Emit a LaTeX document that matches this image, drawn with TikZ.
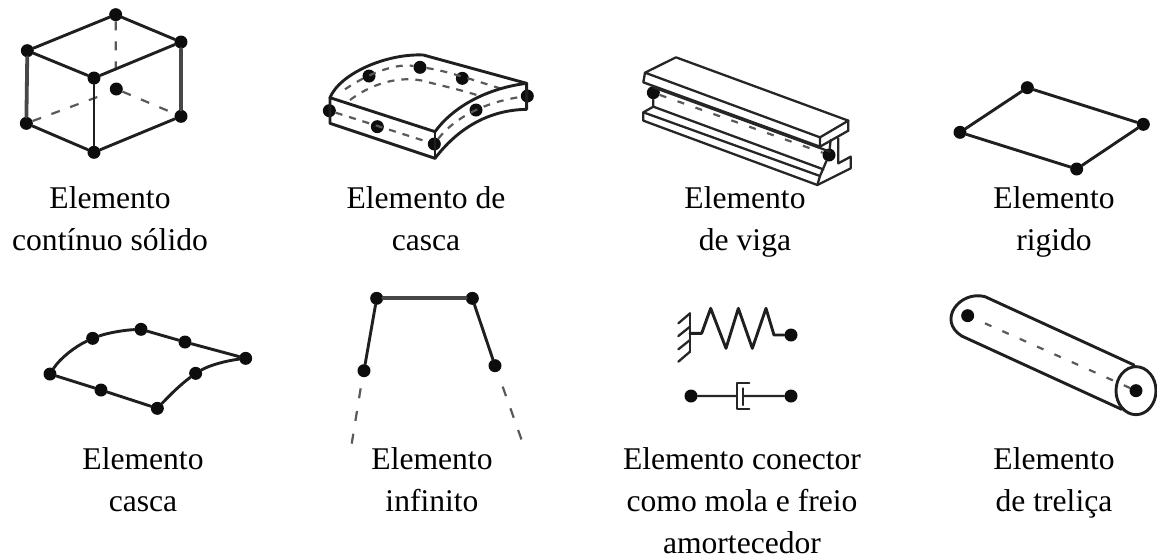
\documentclass[tikz,border=0pt]{standalone}
\usepackage{fontspec}
\setmainfont{Liberation Serif}
\begin{document}
\begin{tikzpicture}[x=1pt,y=-1pt,
  dotn/.style={circle,fill=black!95,inner sep=0pt,minimum size=13pt},
  edge/.style={draw=black!88,line width=2.9pt,line join=round,line cap=round},
  thick edge/.style={draw=black!72,line width=3.8pt,line cap=round},
  thin edge/.style={draw=black!85,line width=2.3pt,line join=round,line cap=round},
  dash edge/.style={draw=black!65,line width=2.2pt,dash pattern=on 9pt off 11pt},
  label/.style={anchor=base,inner sep=0pt,font=\fontsize{31.6}{36}\selectfont,text=black}]
\useasboundingbox (0,0) rectangle (1157,558);
% solid
\begin{scope}[shift={(0,0)},scale=1/3]
\node[dotn] (c1) at (347,44) {};
\node[dotn] (c2) at (82,152) {};
\node[dotn] (c3) at (543,126) {};
\node[dotn] (c4) at (282,234) {};
\node[dotn] (c5) at (79,370) {};
\node[dotn] (c6) at (543,349) {};
\node[dotn] (c7) at (282,457) {};
\node[dotn] (c8) at (349,267) {};
\draw[dash edge] (c1) -- (347,210);
\draw[dash edge] (c5) -- (300,288);
\draw[dash edge] (c8) -- (c6);
\draw[edge] (c1) -- (c2) -- (c4) -- (c3) -- (c1);
\draw[edge] (c5) -- (c7) -- (c6);
\draw[thick edge] (c2) -- (c5);
\draw[thick edge] (c3) -- (c6);
\draw[edge] (c4) -- (c7);
\end{scope}
% curved solid shell
\begin{scope}[shift={(300,50)},scale=1/3]
\coordinate (s1) at (90,143);
\coordinate (s2) at (370,15);
\coordinate (s3) at (680,100);
\coordinate (s4) at (405,245);
\coordinate (s5) at (90,220);
\coordinate (s6) at (405,325);
\coordinate (s7) at (680,178);
\node[dotn] (n1) at (88,182) {};
\node[dotn] (n2) at (232,230) {};
\node[dotn] (n3) at (403,282) {};
\node[dotn] (n4) at (528,180) {};
\node[dotn] (n5) at (682,138) {};
\node[dotn] (n6) at (207,78) {};
\node[dotn] (n7) at (360,52) {};
\node[dotn] (n8) at (487,85) {};
\draw[dash edge,dash pattern=on 7pt off 7pt] (135,118) .. controls (220,60) and (300,40) .. (n7) .. controls (430,60) and (520,90) .. (600,115);
\draw[dash edge,dash pattern=on 7pt off 7pt] (150,150) .. controls (230,90) and (320,75) .. (390,98) .. controls (440,110) and (500,125) .. (530,135);
\draw[dash edge,dash pattern=on 7pt off 7pt] (n1) -- (n3);
\draw[dash edge,dash pattern=on 7pt off 7pt] (n3) .. controls (450,220) and (530,160) .. (n5);
\draw[edge] (s1) .. controls (120,70) and (260,10) .. (s2) -- (s3) .. controls (560,115) and (460,170) .. (s4) -- cycle;
\draw[edge] (s1) -- (s5) -- (s6) .. controls (470,240) and (560,180) .. (s7) -- (s3);
\draw[edge] (s4) -- (s6);
\end{scope}
% beam
\begin{scope}[shift={(590,50)},scale=1/3]
\coordinate (b1) at (165,68);
\coordinate (b2) at (258,22);
\coordinate (b3) at (775,212);
\coordinate (b4) at (690,262);
\coordinate (b5) at (160,97);
\coordinate (b6) at (690,290);
\coordinate (b7) at (775,242);
\node[dotn] (bn1) at (190,128) {};
\node[dotn] (bn2) at (717,315) {};
\draw[dash edge,dash pattern=on 7pt off 12pt] (bn1) -- (bn2);
\draw[thin edge] (b1) -- (b2) -- (b3) -- (b4) -- cycle;
\draw[thin edge] (b1) -- (b5) -- (b6) -- (b4);
\draw[thin edge] (b3) -- (b7) -- (b6);
\draw[thin edge] (190,112) -- (720,305);
\draw[thin edge] (bn1) -- (190,170) -- (700,358);
\draw[thin edge] (190,170) -- (160,187) -- (160,212) -- (682,405) -- (782,355) -- (782,320) -- (745,340) -- (745,265);
\draw[thin edge] (160,187) -- (690,378) -- (682,405);
\draw[thin edge] (722,270) -- (bn2) -- (690,378);
\end{scope}
% rigid
\begin{scope}[shift={(930,70)},scale=1/3]
\node[dotn] (r1) at (292,53) {};
\node[dotn] (r2) at (640,163) {};
\node[dotn] (r3) at (440,297) {};
\node[dotn] (r4) at (90,187) {};
\draw[edge] (r1) -- (r2) -- (r3) -- (r4) -- (r1);
\end{scope}
% shell quad
\begin{scope}[shift={(30,310)},scale=1/3]
\node[dotn] (q1) at (60,192) {};
\node[dotn] (q2) at (188,85) {};
\node[dotn] (q3) at (333,58) {};
\node[dotn] (q4) at (465,96) {};
\node[dotn] (q5) at (647,145) {};
\node[dotn] (q6) at (497,190) {};
\node[dotn] (q7) at (382,295) {};
\node[dotn] (q8) at (213,240) {};
\draw[edge] (q1) .. controls (90,145) and (135,110) .. (q2) .. controls (235,68) and (285,60) .. (q3) -- (q4) -- (q5) .. controls (590,152) and (540,165) .. (q6) .. controls (450,225) and (420,255) .. (q7) -- (q8) -- (q1);
\end{scope}
% infinite
\begin{scope}[shift={(340,280)},scale=1/3]
\node[dotn] (i1) at (110,55) {};
\node[dotn] (i2) at (397,55) {};
\node[dotn] (i3) at (465,257) {};
\node[dotn] (i4) at (72,272) {};
\coordinate (i5) at (35,492);
\coordinate (i6) at (545,480);
\coordinate (i7) at (62,325);
\coordinate (i8) at (488,320);
\draw[edge] (i4) -- (i1);
\draw[thick edge] (i1) -- (i2);
\draw[edge] (i2) -- (i3);
\draw[dash edge,dash pattern=on 10pt off 13pt] (i7) -- (i5);
\draw[dash edge,dash pattern=on 10pt off 13pt] (i8) -- (i6);
\end{scope}
% spring and damper
\begin{scope}[shift={(640,310)},scale=1/3]
\coordinate (w1) at (150,10);
\coordinate (w2) at (150,125);
\node[dotn] (sp) at (453,75) {};
\node[dotn] (d1) at (153,258) {};
\node[dotn] (d2) at (453,258) {};
\coordinate (d3) at (290,258);
\coordinate (d4) at (310,258);
\draw[thin edge] (w1) -- (w2);
\draw[thin edge] (w1) -- (115,40) (150,50) -- (115,78) (150,90) -- (115,118) (w2) -- (115,155);
\draw[edge] (150,70) -- (185,70) -- (212,-5) -- (258,115) -- (295,-5) -- (337,115) -- (378,-5) -- (402,75) -- (sp);
\draw[thin edge] (d1) -- (d3) (d4) -- (d2);
\draw[thin edge] (328,218) -- (290,218) -- (290,298) -- (328,298);
\draw[thin edge] (310,235) -- (310,285);
\end{scope}
% truss
\begin{scope}[shift={(930,300)},scale=1/3]
\node[dotn] (t1) at (113,47) {};
\node[dotn] (t2) at (618,272) {};
\coordinate (t3) at (165,-10);
\coordinate (t4) at (612,195);
\coordinate (t5) at (95,108);
\coordinate (t6) at (575,328);
\draw[dash edge,dash pattern=on 7pt off 12pt] (165,70) -- (t2);
\draw[edge] (t4) -- (t3) .. controls (90,-30) and (20,60) .. (t5) -- (t6);
\draw[edge] (618,272) ellipse [x radius=60,y radius=72];
\end{scope}
% labels
\node[label] (l1a) at (110,208) {Elemento};
\node[label] (l1b) at (110,250) {contínuo sólido};
\node[label] (l2a) at (426,208) {Elemento de};
\node[label] (l2b) at (426,250) {casca};
\node[label] (l3a) at (745,208) {Elemento};
\node[label] (l3b) at (745,250) {de viga};
\node[label] (l4a) at (1054,208) {Elemento};
\node[label] (l4b) at (1054,250) {rigido};
\node[label] (l5a) at (143,469) {Elemento};
\node[label] (l5b) at (143,511) {casca};
\node[label] (l6a) at (432,469) {Elemento};
\node[label] (l6b) at (432,511) {infinito};
\node[label] (l7a) at (742,469) {Elemento conector};
\node[label] (l7b) at (742,511) {como mola e freio};
\node[label] (l7c) at (742,553) {amortecedor};
\node[label] (l8a) at (1054,469) {Elemento};
\node[label] (l8b) at (1054,511) {de treliça};
\end{tikzpicture}
\end{document}
